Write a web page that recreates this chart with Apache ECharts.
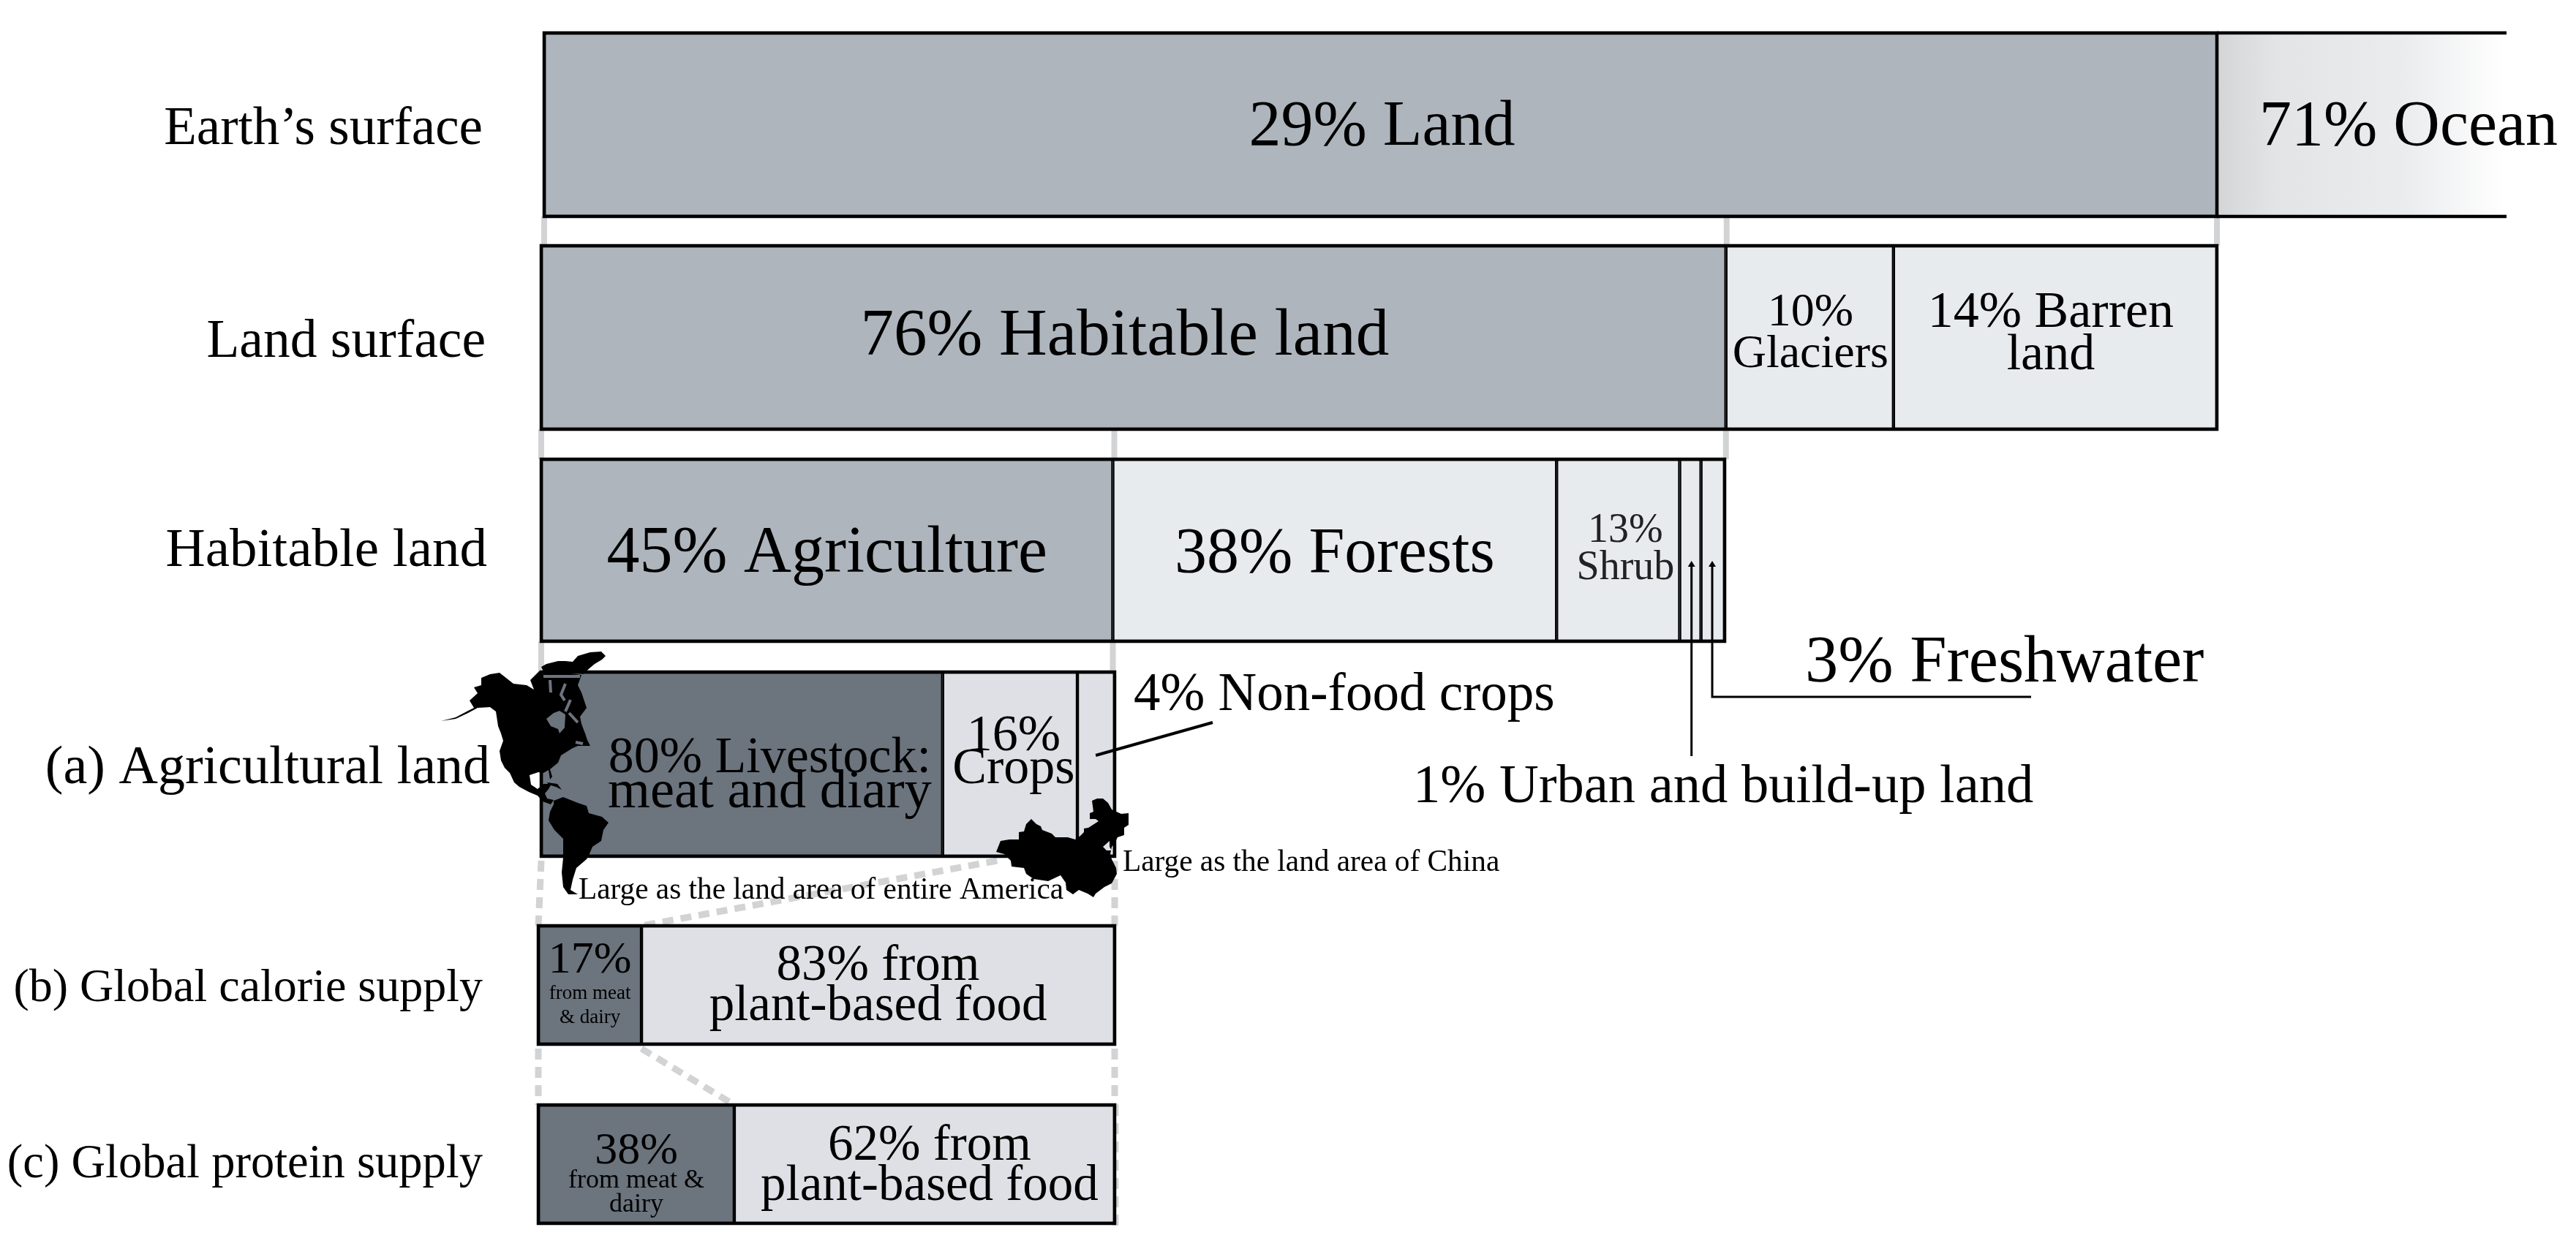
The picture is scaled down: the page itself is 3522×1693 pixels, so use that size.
<!DOCTYPE html>
<html>
<head>
<meta charset="utf-8">
<title>Land use</title>
<script src="https://cdn.jsdelivr.net/npm/echarts@6/dist/echarts.min.js"></script>
<style>
html, body { margin: 0; padding: 0; background: #fff; }
#main { width: 3522px; height: 1693px; }
</style>
</head>
<body>
<div id="main"></div>
<script>
// 行名称
var rowNames = ['Earth’s surface', 'Land surface', 'Habitable land', '(a) Agricultural land', '(b) Global calorie supply', '(c) Global protein supply']

// drawn widths (the printed labels do not always agree with them)
var earthValues = [29, 71]
var landValues = [70.7, 10, 19.3]
var habitableValues = [48.3, 37.5, 10.4, 1.8, 2]
var agriValues = [70, 23.5, 6.5]
var calorieValues = [17.9, 82.1]
var proteinValues = [34, 66]

var earthLabels = ['29% Land', '71% Ocean']
var landLabels = ['76% Habitable land', '10%\nGlaciers', '14% Barren\nland']
var habitableLabels = ['45% Agriculture', '38% Forests', '13%\nShrub', '', '']
var agriLabels = ['{live|80% Livestock:}\n{meat|meat and diary}', '16%\nCrops', '']
var calorieLabels = ['{big|17%}\n{small|from meat}\n{small|& dairy}', '83% from\nplant-based food']
var proteinLabels = ['{big2|38%}\n{small2|from meat &}\n{small2|dairy}', '62% from\nplant-based food']

var rowValues = [earthValues, landValues, habitableValues, agriValues, calorieValues, proteinValues]
var rowLabels = [earthLabels, landLabels, habitableLabels, agriLabels, calorieLabels, proteinLabels]

// 布局
var rowLeft = [744, 740, 740, 740, 736, 736]
var rowRight = [3427, 3031, 2358, 1524, 1524, 1524]
var rowTop = [45, 336, 628, 919, 1266, 1511]
var rowBottom = [296, 587, 877, 1171, 1428, 1673]
var rowMax = [34.02, 100, 100, 100, 100, 100]
var rowNameMargin = [84, 76, 74, 70, 76, 76]
var rowNameSize = [73, 73.5, 75, 74, 64, 64.5]
var rowNameShift = [7, 7, 2, 7, 5, 1]

var LAND = '#aeb5bd'
var LIGHT = '#e8ebee'
var DARK = '#6c747e'
var PALE = '#dee0e5'
var GREY = '#d2d3d5'
var FONT = '"Liberation Serif", serif'

var oceanFill = new echarts.graphic.LinearGradient(0, 0, 1, 0, [
  { offset: 0, color: '#d4d5d7' },
  { offset: 0.2, color: '#e3e4e6' },
  { offset: 0.65, color: '#ebecee' },
  { offset: 1, color: '#ffffff' }
])
var rowColors = [
  [LAND, oceanFill],
  [LAND, LIGHT, LIGHT],
  [LAND, LIGHT, LIGHT, LIGHT, LIGHT],
  [DARK, PALE, PALE],
  [DARK, PALE],
  [DARK, PALE]
]
// fontSize, lineHeight, offset of each segment label
var rowLabelStyles = [
  [[88, 88, [2, 4]], [88, 88, [64, 4]]],
  [[91, 91, [-12, 0]], [64, 57, [1, -5]], [70, 58, [-6, -4]]],
  [[90, 90, [0, 6]], [88, 88, [0, 6]], [56, 51, [10, -1]], [10, 10, [0, 0]], [10, 10, [0, 0]]],
  [[71, 46, [38, 16]], [70, 45, [5, -15]], [10, 10, [0, 0]]],
  [[62, 56, [0, 0]], [69, 55, [0, 2]]],
  [[62, 47, [0, 16]], [69, 55, [7, 3]]]
]
var smallRich = {
  live: { fontSize: 70, lineHeight: 46, fontFamily: FONT, color: '#000' },
  meat: { fontSize: 74.5, lineHeight: 46, fontFamily: FONT, color: '#000' },
  big: { fontSize: 62, lineHeight: 56, fontFamily: FONT, color: '#000' },
  small: { fontSize: 27, lineHeight: 33, fontFamily: FONT, color: '#000' },
  big2: { fontSize: 62, lineHeight: 47, fontFamily: FONT, color: '#000' },
  small2: { fontSize: 36, lineHeight: 33, fontFamily: FONT, color: '#000' }
}

var grids = []
var xAxes = []
var yAxes = []
var seriesList = []

rowNames.forEach(function (name, r) {
  grids.push({
    left: rowLeft[r],
    top: rowTop[r],
    width: rowRight[r] - rowLeft[r],
    height: rowBottom[r] - rowTop[r],
    outerBoundsMode: 'none'
  })
  xAxes.push({ gridIndex: r, type: 'value', min: 0, max: rowMax[r], show: false })
  yAxes.push({
    gridIndex: r,
    type: 'category',
    data: [name],
    axisLine: { show: false },
    axisTick: { show: false },
    axisLabel: {
      margin: rowNameMargin[r],
      fontSize: rowNameSize[r],
      fontFamily: FONT,
      color: '#000',
      // 用 lineHeight 微调竖直位置
      verticalAlign: 'top',
      lineHeight: rowNameShift[r] * 2
    }
  })
  rowValues[r].forEach(function (v, i) {
    var st = rowLabelStyles[r][i]
    var isOcean = r === 0 && i === 1
    seriesList.push({
      type: 'bar',
      stack: 'row' + r,
      xAxisIndex: r,
      yAxisIndex: r,
      barWidth: '100%',
      silent: true,
      clip: isOcean,
      z: isOcean ? 1 : 2,
      data: [v],
      itemStyle: {
        color: rowColors[r][i],
        borderColor: '#000',
        // the border sits inside the bar, so two neighbours make one divider
        borderWidth: isOcean ? 0 : 2.2
      },
      label: {
        show: rowLabels[r][i] !== '',
        position: 'inside',
        formatter: rowLabels[r][i],
        fontSize: st[0],
        lineHeight: st[1],
        offset: st[2],
        fontFamily: FONT,
        color: r === 2 && i === 2 ? '#222' : '#000',
        rich: smallRich
      }
    })
  })
})

var myChart = echarts.init(document.getElementById('main'))
myChart.setOption({
  animation: false,
  backgroundColor: '#fff',
  grid: grids,
  xAxis: xAxes,
  yAxis: yAxes,
  series: seriesList
})

// x 像素
function px(r, v) {
  return myChart.convertToPixel({ xAxisIndex: r }, v)
}
function lineEl(x1, y1, x2, y2, color, width, dash, z) {
  return {
    type: 'line',
    silent: true,
    z: z,
    shape: { x1: x1, y1: y1, x2: x2, y2: y2 },
    style: { stroke: color, lineWidth: width, lineDash: dash || null }
  }
}
function textEl(text, x, y, size) {
  return {
    type: 'text',
    silent: true,
    z: 60,
    style: { text: text, x: x, y: y, fontSize: size, fontFamily: FONT, fill: '#000', verticalAlign: 'middle', align: 'left' }
  }
}
function polyEl(points, fill) {
  return { type: 'polygon', silent: true, z: 40, shape: { points: points }, style: { fill: fill } }
}
function wireEl(points, color, width) {
  return { type: 'polyline', silent: true, z: 41, shape: { points: points }, style: { stroke: color, lineWidth: width, fill: null } }
}

// connectors between rows: [upper row, value, lower row, value]
var solidLinks = [[0, 0, 1], [0, 20.5, 1], [0, 29, 1], [1, 0, 2], [1, 34.2, 2], [1, 70.7, 2], [2, 0, 3], [2, 48.3, 3]]
var dashedLinks = [[3, 0, 4, 0], [3, 100, 4, 100], [3, 79.5, 4, 17.9], [4, 0, 5, 0], [4, 100, 5, 100], [4, 17.9, 5, 34]]

// map outlines, traced by hand
var northAmerica = [[603, 986], [623, 983], [640, 975], [653, 968], [670, 967], [678, 973], [681, 993], [685, 1003], [688, 1013], [683, 1027], [685, 1040], [690, 1050], [697, 1057], [703, 1070], [710, 1076], [723, 1083], [735, 1088], [742, 1096], [753, 1100], [757, 1094], [748, 1092], [745, 1085], [750, 1079], [754, 1072], [743, 1072], [735, 1079], [726, 1073], [724, 1060], [736, 1056], [743, 1057], [750, 1053], [752, 1066], [755, 1062], [752, 1052], [763, 1043], [767, 1033], [783, 1023], [790, 1020], [807, 1020], [803, 1012], [800, 1003], [795, 990], [793, 980], [802, 968], [795, 947], [790, 937], [795, 923], [773, 920], [737, 918], [725, 930], [730, 943], [720, 937], [702, 935], [683, 920], [670, 922], [658, 927], [658, 937], [648, 940], [653, 948], [642, 958], [648, 968], [640, 972], [623, 981]]
var greenland = [[740, 912], [747, 908], [763, 904], [773, 904], [783, 905], [790, 897], [807, 892], [822, 891], [828, 897], [823, 902], [813, 908], [807, 913], [797, 922], [787, 918], [767, 917], [743, 918]]
var southAmerica = [[757, 1095], [770, 1090], [790, 1098], [802, 1102], [805, 1112], [823, 1117], [832, 1125], [825, 1135], [822, 1150], [810, 1158], [805, 1170], [802, 1175], [788, 1187], [783, 1203], [780, 1217], [790, 1223], [777, 1223], [770, 1213], [768, 1193], [770, 1173], [770, 1147], [758, 1135], [750, 1122], [752, 1110], [757, 1100]]
var hudsonBay = [[747, 983], [757, 975], [765, 972], [773, 977], [772, 995], [765, 1003], [763, 997], [753, 993]]
var arcticWater = [
  [[743, 925], [793, 925]],
  [[752, 930], [753, 947]],
  [[773, 935], [767, 950], [772, 958]],
  [[780, 957], [773, 973]],
  [[778, 975], [790, 988]],
  [[787, 1015], [797, 1017]]
]
var cuba = [[748, 1070], [762, 1072], [768, 1080], [760, 1076], [750, 1073]]
var china = [[1362, 1165], [1368, 1150], [1380, 1148], [1393, 1148], [1393, 1138], [1400, 1137], [1403, 1127], [1410, 1120], [1417, 1127], [1423, 1130], [1425, 1135], [1438, 1140], [1443, 1145], [1460, 1145], [1470, 1148], [1477, 1143], [1482, 1138], [1482, 1133], [1488, 1132], [1502, 1123], [1498, 1120], [1490, 1120], [1490, 1112], [1495, 1110], [1493, 1095], [1500, 1092], [1508, 1092], [1515, 1098], [1520, 1107], [1533, 1113], [1543, 1112], [1543, 1128], [1537, 1132], [1537, 1142], [1528, 1145], [1523, 1155], [1520, 1158], [1518, 1168], [1520, 1175], [1526, 1187], [1527, 1195], [1520, 1208], [1510, 1213], [1498, 1222], [1495, 1227], [1487, 1222], [1475, 1217], [1467, 1223], [1458, 1217], [1457, 1207], [1450, 1197], [1433, 1205], [1413, 1202], [1403, 1195], [1400, 1187], [1383, 1185], [1382, 1177], [1373, 1168]]
var bohai = [[1508, 1158], [1517, 1150], [1517, 1158], [1520, 1163], [1513, 1163]]

var els = []
solidLinks.forEach(function (l) {
  var x = px(l[0], l[1])
  els.push(lineEl(x, rowBottom[l[0]], x, rowTop[l[2]], GREY, 8, null, 0))
})
dashedLinks.forEach(function (l) {
  els.push(lineEl(px(l[0], l[1]), rowBottom[l[0]] + 6, px(l[2], l[3]), rowTop[l[2]], GREY, 9, [15, 10], 0))
})
// 右侧虚线一直到底
els.push(lineEl(px(5, 100) + 1, rowTop[5], px(5, 100) + 1, 1685, GREY, 9, [15, 10], 0))

// 每行外框
rowNames.forEach(function (name, r) {
  var x0 = px(r, 0)
  var x1 = r === 0 ? px(0, 29) : px(r, 100)
  els.push({
    type: 'rect',
    silent: true,
    z: 30,
    shape: { x: x0, y: rowTop[r], width: x1 - x0, height: rowBottom[r] - rowTop[r] },
    style: { fill: null, stroke: '#000', lineWidth: 4.5 }
  })
})
// Ocean 段只有上下边框
els.push(lineEl(px(0, 29), rowTop[0], rowRight[0], rowTop[0], '#000', 4.5, null, 30))
els.push(lineEl(px(0, 29), rowBottom[0], rowRight[0], rowBottom[0], '#000', 4.5, null, 30))

// arrows from the narrow habitable segments
var urbanX = px(2, 97.2)
var freshX = px(2, 98.95)
els.push(lineEl(urbanX, 770, urbanX, 1034, '#000', 3, null, 35))
els.push(wireEl([[freshX, 770], [freshX, 953], [2777, 953]], '#000', 3))
els.push(polyEl([[urbanX, 767], [urbanX - 5, 775], [urbanX + 5, 775]], '#000'))
els.push(polyEl([[freshX, 767], [freshX - 5, 775], [freshX + 5, 775]], '#000'))
els.push(lineEl(px(3, 96.7), 1033, 1658, 988, '#000', 4, null, 35))

els.push(polyEl(northAmerica, '#000'))
els.push(polyEl(greenland, '#000'))
els.push(polyEl(southAmerica, '#000'))
els.push(polyEl(cuba, '#000'))
els.push(polyEl(china, '#000'))
els.push({ type: 'polygon', silent: true, z: 41, shape: { points: hudsonBay }, style: { fill: DARK } })
els.push({ type: 'polygon', silent: true, z: 41, shape: { points: bohai }, style: { fill: PALE } })
arcticWater.forEach(function (w) {
  els.push(wireEl(w, DARK, 4))
})

els.push(textEl('4% Non-food crops', 1550, 952, 73))
els.push(textEl('3% Freshwater', 2468, 908, 90.5))
els.push(textEl('1% Urban and build-up land', 1932, 1077, 74.5))
els.push(textEl('Large as the land area of entire America', 791, 1218, 41.3))
els.push(textEl('Large as the land area of China', 1535, 1180, 41.3))

myChart.setOption({ graphic: { elements: els } })
</script>
</body>
</html>
